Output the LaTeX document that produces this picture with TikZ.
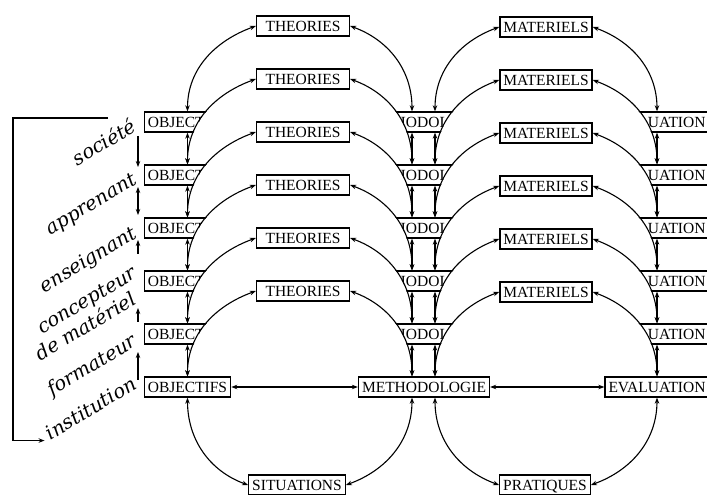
\documentclass[tikz,border=0pt]{standalone}
\usepackage{fontspec}
\setmainfont{Liberation Serif}
\newfontfamily\rolefont{DejaVu Serif}
\usepackage{tikz}
\usetikzlibrary{arrows.meta, positioning}

\begin{document}
\begin{tikzpicture}[x=1pt, y=1pt,
    pole/.style={draw, fill=white, line width=1.3pt, inner xsep=3.5pt, inner ysep=0pt,
      minimum height=20pt, text height=10.5pt, text depth=0pt,
      font=\fontsize{15.5}{17}\selectfont},
    link/.style={line width=1.1pt, {Stealth[length=6pt,width=4.5pt]}-{Stealth[length=6pt,width=4.5pt]}},
    lift/.style={line width=1.1pt, -{Stealth[length=6pt,width=4.5pt]}},
    role/.style={font={\rolefont\itshape\fontsize{19.5}{21}\selectfont}, rotate=31,
      anchor=base east, inner sep=0pt}]
\useasboundingbox (0,-108) rectangle (707,387);

% layers, from the back one (5) to the front one (0)
\foreach \k [evaluate=\k as \kb using int(\k+1)] in {5,4,...,0}{
  \begin{scope}[yshift=\k*53]
    % mask hiding the layer behind
    \fill[white] (187.5,10) to[out=90,in=200] (256.5,96) -- (349.5,96)
      to[out=-20,in=90] (412,10) -- cycle;
    \fill[white] (435,10) to[out=90,in=200] (500,95) -- (592,95)
      to[out=-20,in=90] (657,10) -- cycle;
    \node[pole] (obj\k) at (187.5,0) {OBJECTIFS};
    \node[pole] (meth\k) at (424,0) {METHODOLOGIE};
    \node[pole] (eval\k) at (657,0) {EVALUATION};
    \node[pole, minimum width=93pt] (theo\k) at (303,96) {THEORIES};
    \node[pole, minimum width=92pt] (mat\k) at (546,95) {MATERIELS};
  \end{scope}
  \draw[link] (obj\k.north) to[out=90,in=200] (theo\k.west);
  \draw[link] (theo\k.east) to[out=-20,in=90] ([xshift=-12pt]meth\k.north);
  \draw[link] ([xshift=11pt]meth\k.north) to[out=90,in=200] (mat\k.west);
  \draw[link] (mat\k.east) to[out=-20,in=90] (eval\k.north);
  \ifnum\k<5
    \draw[link] (obj\kb.south) -- (obj\k.north);
    \draw[link] ([xshift=-12pt]meth\kb.south) -- ([xshift=-12pt]meth\k.north);
    \draw[link] ([xshift=11pt]meth\kb.south) -- ([xshift=11pt]meth\k.north);
    \draw[link] (eval\kb.south) -- (eval\k.north);
  \fi
}

% front layer
\node[pole] (sit) at (297,-98) {SITUATIONS};
\node[pole] (prat) at (545,-98) {PRATIQUES};
\draw[link] (obj0.east) -- (meth0.west);
\draw[link] (meth0.east) -- (eval0.west);
\draw[link] (obj0.south) to[out=-90,in=160] (sit.west);
\draw[link] (sit.east) to[out=20,in=-90] ([xshift=-12pt]meth0.south);
\draw[link] ([xshift=11pt]meth0.south) to[out=-90,in=160] (prat.west);
\draw[link] (prat.east) to[out=20,in=-90] (eval0.south);

% actors
\node[role] (soc) at (138,257) {société};
\node[role] (appr) at (138,204) {apprenant};
\node[role] (ens) at (138,150) {enseignant};
\node[role] (conc) at (138,110) {concepteur};
\node[role] (demat) at (138,84) {de matériel};
\node[role] (form) at (138,42) {formateur};
\node[role] (inst) at (138,-1) {institution};
\draw[lift] ([yshift=-6pt]soc.base east) -- ([yshift=16pt]appr.base east);
\draw[link] ([yshift=-4pt]appr.base east) -- ([yshift=22pt]ens.base east);
\draw[lift] ([yshift=23pt]conc.base east) -- ([yshift=-3pt]ens.base east);
\draw[lift] ([yshift=23pt]form.base east) -- ([yshift=-5pt]demat.base east);
\draw[lift] ([yshift=8pt]inst.base east) -- ([yshift=-7pt]form.base east);
\coordinate (brk) at (108,269);
\draw[lift] (brk) -- ++(-95,0) |- ([xshift=-6pt]inst.base west);
\end{tikzpicture}
\end{document}
